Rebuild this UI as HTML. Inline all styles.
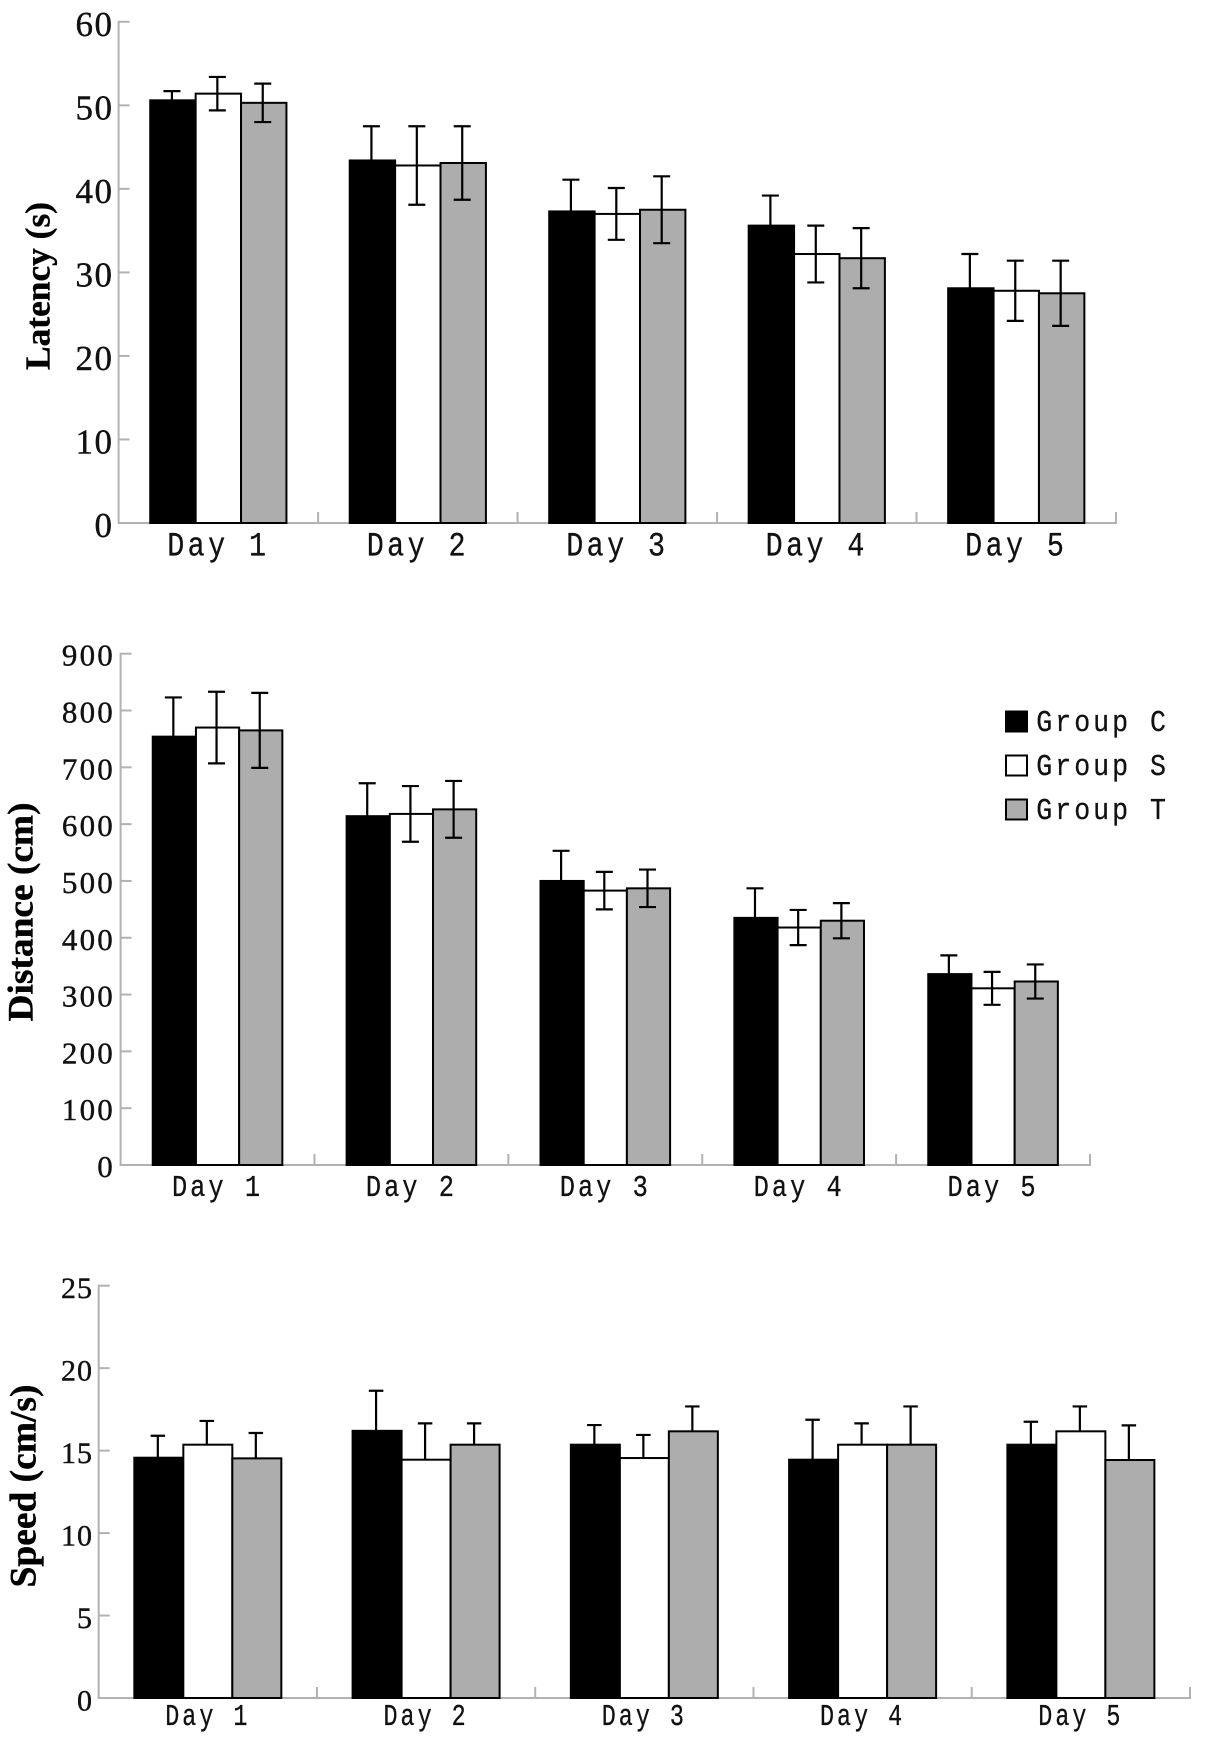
<!DOCTYPE html>
<html lang="en">
<head>
<meta charset="utf-8">
<title>Latency, distance and speed by day</title>
<style>
html,body{margin:0;padding:0;background:#fff;}
svg{display:block;}
text{fill:#111;white-space:pre;}
.tick{font-family:"Liberation Serif",serif;stroke:#111;stroke-width:0.4;}
.mono{font-family:"Liberation Mono",monospace;stroke:#111;stroke-width:0.25;}
.title{font-family:"Liberation Serif",serif;font-weight:bold;fill:#000;stroke:#000;stroke-width:0.4;}
</style>
</head>
<body>
<svg id="figure" xmlns="http://www.w3.org/2000/svg" width="1205" height="1743" viewBox="0 0 1205 1743">
  <rect x="0" y="0" width="1205" height="1743" fill="#fff"/>
  <g id="latency-chart"></g>
  <g id="distance-chart"></g>
  <g id="speed-chart"></g>
  <text class="title" transform="translate(49.5 286) rotate(-90)" text-anchor="middle" font-size="35" textLength="168" lengthAdjust="spacingAndGlyphs">Latency (s)</text>
  <text class="title" transform="translate(32.5 912) rotate(-90)" text-anchor="middle" font-size="36" textLength="219" lengthAdjust="spacingAndGlyphs">Distance (cm)</text>
  <text class="title" transform="translate(35.5 1486) rotate(-90)" text-anchor="middle" font-size="37" textLength="203" lengthAdjust="spacingAndGlyphs">Speed (cm/s)</text>
  <g>
    <g>
      <rect x="1006" y="711.5" width="21" height="20" fill="#000" stroke="#000" stroke-width="2"/>
      <text class="mono" transform="translate(1036.3 731) scale(1 1.15)" font-size="26.6" letter-spacing="3">Group C</text>
    </g>
    <g>
      <rect x="1006" y="755.5" width="21" height="20" fill="#fff" stroke="#000" stroke-width="2"/>
      <text class="mono" transform="translate(1036.3 775) scale(1 1.15)" font-size="26.6" letter-spacing="3">Group S</text>
    </g>
    <g>
      <rect x="1006" y="799.5" width="21" height="20" fill="#adadad" stroke="#000" stroke-width="2"/>
      <text class="mono" transform="translate(1036.3 819) scale(1 1.15)" font-size="26.6" letter-spacing="3">Group T</text>
    </g>
  </g>
</svg>
<script>
const days = ["Day 1", "Day 2", "Day 3", "Day 4", "Day 5"];
const groupNames = ["group-c", "group-s", "group-t"];
const groupFills = ["#000000", "#ffffff", "#adadad"];

const latencyTicks = [0, 10, 20, 30, 40, 50, 60];
const latencyC = [50.6, 43.4, 37.3, 35.6, 28.1];
const latencyS = [51.4, 42.8, 37.0, 32.2, 27.8];
const latencyT = [50.3, 43.1, 37.5, 31.7, 27.5];
const latencyErrC = [1.1, 4.1, 3.8, 3.6, 4.1];
const latencyErrS = [2.0, 4.7, 3.1, 3.4, 3.6];
const latencyErrT = [2.3, 4.4, 4.0, 3.6, 3.9];

const distanceTicks = [0, 100, 200, 300, 400, 500, 600, 700, 800, 900];
const distanceC = [754, 614, 500, 435, 336];
const distanceS = [770, 618, 483, 418, 311];
const distanceT = [765, 626, 487, 430, 323];
const distanceErrC = [69, 58, 53, 52, 33];
const distanceErrS = [63, 49, 33, 31, 29];
const distanceErrT = [66, 50, 33, 31, 30];

const speedTicks = [0, 5, 10, 15, 20, 25];
const speedC = [14.57, 16.2, 15.36, 14.45, 15.36];
const speedS = [15.36, 14.45, 14.55, 15.36, 16.17];
const speedT = [14.53, 15.36, 16.17, 15.36, 14.43];
const speedErrC = [1.33, 2.43, 1.19, 2.42, 1.39];
const speedErrS = [1.44, 2.2, 1.4, 1.29, 1.51];
const speedErrT = [1.54, 1.29, 1.51, 2.32, 2.1];

const NS = "http://www.w3.org/2000/svg";
function el(parent, tag, attrs) {
  const e = document.createElementNS(NS, tag);
  for (const k in attrs) e.setAttribute(k, attrs[k]);
  parent.appendChild(e);
  return e;
}

function drawChart(cfg) {
  const root = document.getElementById(cfg.id);
  const yScale = v => cfg.y0 - (v / cfg.yMax) * (cfg.y0 - cfg.yTop);
  const band = (cfg.xEnd - cfg.x0) / days.length;
  const xCenter = i => cfg.x0 + band * (i + 0.5);
  const AXIS = "#b2b2b2";

  const yAxis = el(root, "line", {x1: cfg.x0, x2: cfg.x0, y1: cfg.yTop - 1, y2: cfg.y0 + 1, stroke: AXIS, "stroke-width": 2});
  
  
  const xAxis = el(root, "line", {x1: cfg.x0 - 1, x2: cfg.xEnd + 1, y1: cfg.y0, y2: cfg.y0, stroke: AXIS, "stroke-width": 2});
  
  

  cfg.ticks.forEach(t => {
    const y = yScale(t);
    const mark = el(root, "line", {x1: cfg.x0, x2: cfg.x0 + 11, y1: y, y2: y, stroke: AXIS, "stroke-width": 2});
    
    
    const label = el(root, "text", {class: "tick", x: cfg.labelRight, y: y + cfg.labelDy, "text-anchor": "end", "font-size": cfg.tickSize, "letter-spacing": cfg.tickSpacing});
    
    
    label.textContent = String(t);
  });

  days.forEach((day, i) => {
    const right = cfg.x0 + band * (i + 1);
    const mark = el(root, "line", {x1: right, x2: right, y1: cfg.y0 - 11, y2: cfg.y0, stroke: AXIS, "stroke-width": 2});
    
    
    const label = el(root, "text", {class: "mono", "text-anchor": "middle", "font-size": cfg.daySize, "letter-spacing": cfg.daySpacing, transform: "translate(" + xCenter(i) + " " + cfg.dayBaseline + ") scale(1 " + cfg.dayStretch + ")"});
    
    
    label.textContent = day;

    const left = xCenter(i) - cfg.barW * 1.5;
    cfg.values.forEach((series, g) => {
      const v = series[i];
      const bar = el(root, "rect", {x: left + cfg.barW * g, y: yScale(v), width: cfg.barW, height: cfg.y0 - yScale(v), fill: groupFills[g], stroke: "#000", "stroke-width": 2});
      
      
    });
    cfg.values.forEach((series, g) => {
      const v = series[i];
      const e = cfg.errors[g][i];
      const cx = left + cfg.barW * (g + 0.5) - 1;
      const yHi = yScale(v + e);
      const yLo = cfg.lower ? yScale(v - e) : yScale(v);
      const half = cfg.cap / 2;
      const d = "M" + cx + " " + yLo + "V" + yHi + "M" + (cx - half) + " " + yHi + "H" + (cx + half) +
        (cfg.lower ? "M" + (cx - half) + " " + yLo + "H" + (cx + half) : "");
      const err = el(root, "path", {d: d, fill: "none", stroke: "#000", "stroke-width": 2.2});
      
      
    });
  });
}

drawChart({
  id: "latency-chart", prefix: "latency",
  x0: 118.6, xEnd: 1116, y0: 523, yTop: 21.8, yMax: 60,
  barW: 45.4, cap: 17, lower: true,
  ticks: latencyTicks, tickSize: 35, tickSpacing: 1.5, labelRight: 113.5, labelDy: 14,
  daySize: 28.4, daySpacing: 3.4, dayBaseline: 555.7, dayStretch: 1.2,
  values: [latencyC, latencyS, latencyT],
  errors: [latencyErrC, latencyErrS, latencyErrT]
});
drawChart({
  id: "distance-chart", prefix: "distance",
  x0: 120.6, xEnd: 1090, y0: 1165, yTop: 653.7, yMax: 900,
  barW: 43.2, cap: 17, lower: true,
  ticks: distanceTicks, tickSize: 31, tickSpacing: 2.2, labelRight: 115, labelDy: 12,
  daySize: 25.4, daySpacing: 3, dayBaseline: 1196, dayStretch: 1.2,
  values: [distanceC, distanceS, distanceT],
  errors: [distanceErrC, distanceErrS, distanceErrT]
});
drawChart({
  id: "speed-chart", prefix: "speed",
  x0: 98.7, xEnd: 1190, y0: 1698, yTop: 1285.7, yMax: 25,
  barW: 49, cap: 14.5, lower: false,
  ticks: speedTicks, tickSize: 30, tickSpacing: 1, labelRight: 93, labelDy: 12.5,
  daySize: 23.4, daySpacing: 3, dayBaseline: 1725, dayStretch: 1.3,
  values: [speedC, speedS, speedT],
  errors: [speedErrC, speedErrS, speedErrT]
});
</script>
</body>
</html>
